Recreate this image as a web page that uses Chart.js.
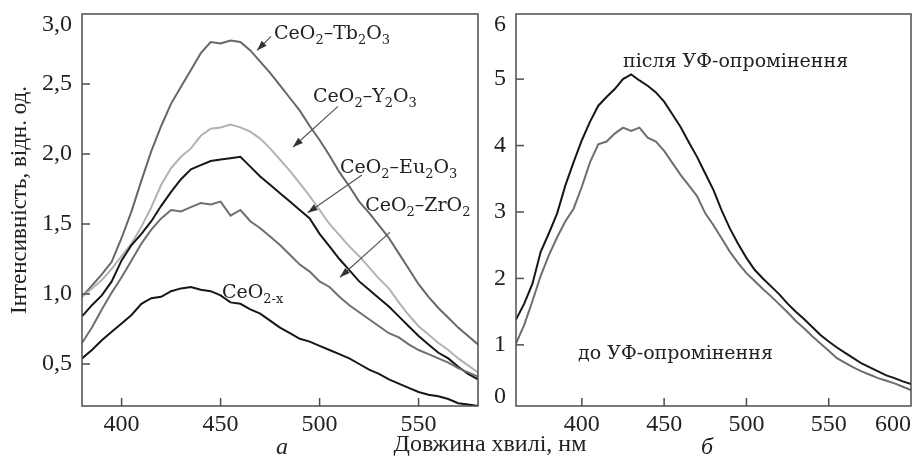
<!DOCTYPE html>
<html>
<head>
<meta charset="utf-8">
<script src="https://cdn.jsdelivr.net/npm/chart.js@4.4.1/dist/chart.umd.min.js"></script>
<style>
body { margin: 0; background: #fff; width: 915px; height: 464px; position: relative; overflow: hidden; font-family: "Liberation Serif", serif; color: #222; }
canvas { position: absolute; top: 0; }
#left { left: 0; }
#right { left: 490px; }
.lbl { position: absolute; font-size: 24px; white-space: nowrap; transform: translate(-50%, -50%); }
</style>
</head>
<body>
<canvas id="left" width="490" height="464"></canvas>
<canvas id="right" width="425" height="464"></canvas>
<div class="lbl" style="left:282px;top:446px;font-style:italic">а</div>
<div class="lbl" style="left:490px;top:443px">Довжина хвилі, нм</div>
<div class="lbl" style="left:707px;top:446px;font-style:italic">б</div>
<script>
// panel a: wavelength, nm
const waveA = [380, 385, 390, 395, 400, 405, 410, 415, 420, 425, 430, 435, 440, 445, 450, 455, 460, 465, 470, 475,
    480, 485, 490, 495, 500, 505, 510, 515, 520, 525, 530, 535, 540, 545, 550, 555, 560, 565, 570, 575, 580];

const ceTb = [0.98, 1.06, 1.14, 1.23, 1.40, 1.59, 1.81, 2.02, 2.20, 2.36, 2.48, 2.60, 2.72, 2.80, 2.79, 2.81, 2.80, 2.74, 2.66, 2.58,
    2.49, 2.40, 2.31, 2.20, 2.10, 1.99, 1.87, 1.77, 1.66, 1.58, 1.49, 1.40, 1.29, 1.18, 1.07, 0.98, 0.90, 0.83, 0.76, 0.70, 0.64];
const ceY = [0.98, 1.04, 1.10, 1.18, 1.27, 1.36, 1.48, 1.62, 1.78, 1.90, 1.98, 2.04, 2.13, 2.18, 2.19, 2.21, 2.19, 2.16, 2.11, 2.04,
    1.96, 1.88, 1.79, 1.70, 1.60, 1.50, 1.42, 1.34, 1.27, 1.19, 1.11, 1.04, 0.94, 0.85, 0.77, 0.71, 0.65, 0.60, 0.54, 0.49, 0.44];
const ceEu = [0.84, 0.92, 0.99, 1.09, 1.24, 1.35, 1.43, 1.52, 1.63, 1.73, 1.82, 1.89, 1.92, 1.95, 1.96, 1.97, 1.98, 1.91, 1.84, 1.78,
    1.72, 1.66, 1.60, 1.54, 1.43, 1.34, 1.25, 1.17, 1.09, 1.03, 0.97, 0.91, 0.84, 0.77, 0.70, 0.64, 0.58, 0.54, 0.48, 0.43, 0.39];
const ceZr = [0.65, 0.76, 0.89, 1.01, 1.12, 1.24, 1.36, 1.46, 1.54, 1.60, 1.59, 1.62, 1.65, 1.64, 1.66, 1.56, 1.60, 1.52, 1.47, 1.41,
    1.35, 1.28, 1.21, 1.16, 1.09, 1.05, 0.98, 0.92, 0.87, 0.82, 0.77, 0.72, 0.69, 0.64, 0.60, 0.57, 0.54, 0.51, 0.47, 0.44, 0.41];
const ceX = [0.54, 0.60, 0.67, 0.73, 0.79, 0.85, 0.93, 0.97, 0.98, 1.02, 1.04, 1.05, 1.03, 1.02, 0.99, 0.94, 0.93, 0.89, 0.86, 0.81,
    0.76, 0.72, 0.68, 0.66, 0.63, 0.60, 0.57, 0.54, 0.50, 0.46, 0.43, 0.39, 0.36, 0.33, 0.30, 0.28, 0.27, 0.25, 0.22, 0.21, 0.20];

// panel b
const waveB = [360, 365, 370, 375, 380, 385, 390, 395, 400, 405, 410, 415, 420, 425, 430, 435, 440, 445, 450, 455,
    460, 465, 470, 475, 480, 485, 490, 495, 500, 505, 510, 515, 520, 525, 530, 535, 540, 545, 550, 555,
    560, 565, 570, 575, 580, 585, 590, 595, 600];
const afterUV = [1.38, 1.62, 1.92, 2.40, 2.68, 2.98, 3.40, 3.75, 4.08, 4.36, 4.60, 4.73, 4.85, 5.00, 5.07, 4.98, 4.90, 4.80, 4.66, 4.47,
    4.28, 4.05, 3.83, 3.58, 3.33, 3.02, 2.75, 2.52, 2.31, 2.13, 2.00, 1.88, 1.76, 1.62, 1.50, 1.39, 1.27, 1.15, 1.05, 0.96,
    0.88, 0.80, 0.72, 0.66, 0.60, 0.54, 0.50, 0.45, 0.41];
const beforeUV = [1.02, 1.30, 1.66, 2.04, 2.35, 2.62, 2.86, 3.05, 3.38, 3.75, 4.02, 4.06, 4.18, 4.27, 4.22, 4.27, 4.12, 4.06, 3.92, 3.74,
    3.56, 3.40, 3.24, 2.98, 2.80, 2.60, 2.40, 2.23, 2.08, 1.96, 1.84, 1.73, 1.61, 1.49, 1.36, 1.25, 1.13, 1.02, 0.91, 0.80,
    0.73, 0.66, 0.60, 0.55, 0.50, 0.46, 0.42, 0.37, 0.32];

const ticksAx = [400, 450, 500, 550];
const ticksAy = [0.5, 1.0, 1.5, 2.0, 2.5, 3.0];
const ticksBx = [400, 450, 500, 550, 600];
const ticksBy = [0, 1, 2, 3, 4, 5, 6];

// labels on the plots, in data units: [text, x, y] and arrows [x1, y1, x2, y2]
const notesA = [
    ['CeO_2–Tb_2O_3', 477, 2.86],
    ['CeO_2–Y_2O_3', 496.7, 2.41],
    ['CeO_2–Eu_2O_3', 510.3, 1.90],
    ['CeO_2–ZrO_2', 523, 1.63],
    ['CeO_{2-x}', 450.7, 1.01]
];
const arrowsA = [
    [475.5, 2.84, 468.4, 2.74],
    [509.3, 2.34, 486.6, 2.05],
    [521.4, 1.85, 494, 1.58],
    [535.5, 1.44, 510.3, 1.12]
];
const notesB = [
    ['після УФ-опромінення', 425, 5.26],
    ['до УФ-опромінення', 397.7, 0.86]
];

function drawRich(ctx, str, x, y, size) {
    const re = /_\{([^}]*)\}|_(.)/g;
    const parts = [];
    let last = 0, m;
    while ((m = re.exec(str))) {
        if (m.index > last) parts.push([str.slice(last, m.index), 0]);
        parts.push([m[1] || m[2], 1]);
        last = re.lastIndex;
    }
    if (last < str.length) parts.push([str.slice(last), 0]);
    let cx = x;
    parts.forEach(([t, sub]) => {
        ctx.font = (sub ? Math.round(size * 0.68) : size) + 'px "DejaVu Serif"';
        ctx.fillText(t, cx, sub ? y + size * 0.36 : y);
        cx += ctx.measureText(t).width;
    });
}

function drawArrow(ctx, x1, y1, x2, y2) {
    const ang = Math.atan2(y2 - y1, x2 - x1);
    ctx.beginPath();
    ctx.moveTo(x1, y1);
    ctx.lineTo(x2, y2);
    ctx.stroke();
    ctx.beginPath();
    ctx.moveTo(x2, y2);
    ctx.lineTo(x2 - 10 * Math.cos(ang) + 3.5 * Math.sin(ang), y2 - 10 * Math.sin(ang) - 3.5 * Math.cos(ang));
    ctx.lineTo(x2 - 10 * Math.cos(ang) - 3.5 * Math.sin(ang), y2 - 10 * Math.sin(ang) + 3.5 * Math.cos(ang));
    ctx.closePath();
    ctx.fill();
}

const framePlugin = {
    id: 'frame',
    afterDatasetsDraw(chart, args, o) {
        const { ctx, chartArea: a, scales: { x, y } } = chart;
        ctx.save();
        ctx.strokeStyle = '#4d4d4d';
        ctx.lineWidth = 1.5;
        ctx.strokeRect(a.left, a.top, a.width, a.height);
        ctx.fillStyle = '#222';
        ctx.font = '24px "Liberation Serif"';
        ctx.textBaseline = 'middle';
        o.xTicks.forEach(v => {
            const px = x.getPixelForValue(v);
            if (px > a.left + 2 && px < a.right - 2) {
                ctx.beginPath(); ctx.moveTo(px, a.bottom); ctx.lineTo(px, a.bottom - 8); ctx.stroke();
            }
            const s = String(v);
            const w = ctx.measureText(s).width;
            ctx.textAlign = 'center';
            ctx.fillText(s, Math.min(Math.max(px, a.left + w / 2), a.right - w / 2), a.bottom + 19);
        });
        o.yTicks.forEach(v => {
            const py = y.getPixelForValue(v);
            if (py > a.top + 2 && py < a.bottom - 2) {
                ctx.beginPath(); ctx.moveTo(a.left, py); ctx.lineTo(a.left + 8, py); ctx.stroke();
            }
            ctx.textAlign = 'right';
            ctx.fillText(o.fmt(v), a.left - 10, Math.min(Math.max(py, a.top + 11), a.bottom - 9));
        });
        if (o.yTitle) {
            ctx.save();
            ctx.translate(20, 200);
            ctx.rotate(-Math.PI / 2);
            ctx.textAlign = 'center';
            ctx.font = '23px "Liberation Serif"';
            ctx.fillText(o.yTitle, 0, 0);
            ctx.restore();
        }
        ctx.strokeStyle = '#555';
        ctx.fillStyle = '#333';
        ctx.lineWidth = 1.2;
        o.arrows.forEach(([x1, y1, x2, y2]) => {
            drawArrow(ctx, x.getPixelForValue(x1), y.getPixelForValue(y1), x.getPixelForValue(x2), y.getPixelForValue(y2));
        });
        ctx.fillStyle = '#222';
        ctx.textAlign = 'left';
        o.notes.forEach(([t, nx, ny]) => {
            drawRich(ctx, t, x.getPixelForValue(nx), y.getPixelForValue(ny), o.noteSize);
        });
        ctx.restore();
    }
};

function series(waves, vals, color) {
    return {
        data: waves.map((w, i) => ({ x: w, y: vals[i] })),
        borderColor: color,
        borderWidth: 2,
        pointRadius: 0,
        tension: 0,
        fill: false
    };
}

function makeChart(id, datasets, xr, yr, axisW, padRight, frameOpts) {
    return new Chart(document.getElementById(id), {
        type: 'line',
        data: { datasets: datasets },
        options: {
            responsive: false,
            animation: false,
            layout: { padding: { top: 14, right: padRight, left: 0, bottom: 0 } },
            plugins: { legend: { display: false }, tooltip: { enabled: false }, frame: frameOpts },
            scales: {
                x: {
                    type: 'linear', min: xr[0], max: xr[1],
                    grid: { display: false }, border: { display: false }, ticks: { display: false },
                    afterFit: s => { s.height = 58; }
                },
                y: {
                    min: yr[0], max: yr[1],
                    grid: { display: false }, border: { display: false }, ticks: { display: false },
                    afterFit: s => { s.width = axisW; }
                }
            }
        },
        plugins: [framePlugin]
    });
}

makeChart('left', [
    series(waveA, ceX, '#161616'),
    series(waveA, ceZr, '#6f6f6f'),
    series(waveA, ceEu, '#161616'),
    series(waveA, ceY, '#b2b2b2'),
    series(waveA, ceTb, '#676767')
], [380, 580], [0.2, 3.0], 82, 12, {
    xTicks: ticksAx, yTicks: ticksAy,
    fmt: v => v.toFixed(1).replace('.', ','),
    yTitle: 'Інтенсивність, відн. од.',
    notes: notesA, arrows: arrowsA, noteSize: 19
});

makeChart('right', [
    series(waveB, beforeUV, '#6e6e6e'),
    series(waveB, afterUV, '#161616')
], [360, 600], [0.08, 5.98], 26, 4, {
    xTicks: ticksBx, yTicks: ticksBy,
    fmt: v => String(v),
    yTitle: null,
    notes: notesB, arrows: [], noteSize: 19
});
</script>
</body>
</html>
